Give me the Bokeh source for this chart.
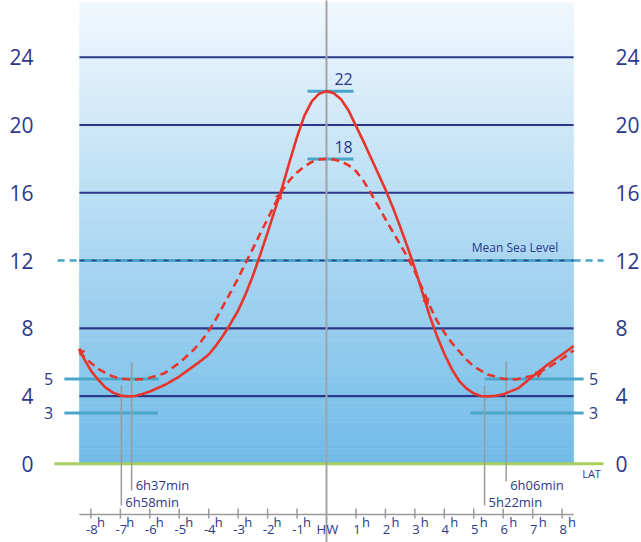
import numpy as np
from bokeh.plotting import figure
from bokeh.models import Range1d
from bokeh.core.properties import value
from bokeh.embed import file_html
from bokeh.resources import INLINE

# ---------------- data ----------------
y_ticks = [0, 4, 8, 12, 16, 20, 24]
y_tick_labels = ["0", "4", "8", "12", "16", "20", "24"]
grid_levels = [4, 8, 16, 20, 24]
mean_sea_level = 12
hw_levels = [22, 18]
hw_labels = ["22", "18"]
lw_levels = [5, 3]
lw_labels = ["5", "3"]
hour_ticks = [-8, -7, -6, -5, -4, -3, -2, -1, 1, 2, 3, 4, 5, 6, 7, 8]
hour_labels = ["-8", "-7", "-6", "-5", "-4", "-3", "-2", "-1",
               "1", "2", "3", "4", "5", "6", "7", "8"]

# solid curve (spring tide), hours relative to HW -> height (m)
spring_t = [-8.39, -8.25, -8.0, -7.75, -7.5, -7.25, -7.0, -6.75, -6.5, -6.25,
            -6.0, -5.5, -5.0, -4.5, -4.25, -4.0, -3.75, -3.5, -3.25, -3.0,
            -2.75, -2.5, -2.25, -2.0, -1.75, -1.5, -1.25, -1.0, -0.75, -0.5,
            -0.25, 0.0, 0.25, 0.5, 0.75, 1.0, 1.25, 1.5, 1.75, 2.0, 2.25, 2.5,
            2.75, 3.0, 3.25, 3.5, 3.75, 4.0, 4.25, 4.5, 4.75, 5.0, 5.25, 5.5,
            5.75, 6.0, 6.5, 7.0, 7.5, 8.0, 8.39]
spring_h = [6.8, 6.25, 5.5, 4.95, 4.5, 4.2, 4.03, 3.98, 4.0, 4.12,
            4.27, 4.65, 5.15, 5.78, 6.1, 6.45, 6.98, 7.6, 8.3, 9.05,
            10.0, 11.1, 12.35, 13.65, 15.0, 16.35, 17.85, 19.3, 20.55, 21.4,
            21.85, 22.0, 21.88, 21.5, 20.85, 19.95, 19.05, 18.1, 17.15, 16.2, 15.15, 14.0,
            12.8, 11.55, 10.15, 8.75, 7.55, 6.5, 5.6, 4.9, 4.45, 4.15, 4.0, 3.98,
            4.02, 4.1, 4.45, 5.15, 5.85, 6.45, 6.95]

# dashed curve (neap tide)
neap_t = [-8.39, -8.25, -8.0, -7.75, -7.5, -7.25, -7.0, -6.6, -6.25, -6.0, -5.5,
          -5.0, -4.5, -4.25, -4.0, -3.75, -3.5, -3.25, -3.0, -2.75, -2.5, -2.25,
          -2.0, -1.75, -1.5, -1.25, -1.0, -0.75, -0.5, -0.25, 0.0, 0.25, 0.5,
          0.75, 1.0, 1.25, 1.5, 1.75, 2.0, 2.25, 2.5, 2.75, 3.0, 3.25, 3.5,
          3.75, 4.0, 4.25, 4.5, 4.75, 5.0, 5.5, 6.0, 6.25, 6.5, 7.0, 7.5,
          8.0, 8.39]
neap_h = [6.65, 6.35, 5.95, 5.6, 5.35, 5.15, 5.03, 4.97, 5.0, 5.08, 5.35,
          5.95, 6.75, 7.25, 7.85, 8.55, 9.35, 10.15, 10.95, 11.85, 12.7, 13.6,
          14.45, 15.35, 16.15, 16.75, 17.2, 17.55, 17.82, 17.96, 18.0, 17.96, 17.85,
          17.62, 17.28, 16.72, 16.0, 15.23, 14.45, 13.7, 12.95, 12.2, 11.35, 10.35, 9.35,
          8.45, 7.75, 7.15, 6.65, 6.15, 5.75, 5.25, 5.02, 4.98, 5.0, 5.2, 5.65,
          6.2, 6.7]

# small direction arrowheads on the curves (hour, height, rotation)
arrow_t = [-8.33, -1.6, 3.4, 7.2]
arrow_h = [6.6, 15.8, 9.6, 5.3]
arrow_rot = [0.75, -0.49, -2.73, -1.1]

marker_times = [-6.967, -6.617, 5.367, 6.1]
marker_labels = ["6h58min", "6h37min", "5h22min", "6h06min"]

# ---------------- style ----------------
NAVY = "#2b388a"
CYAN = "#4aa5c9"
RED = "#e8352b"
GREEN = "#a9cf5b"
GRAY = "#9b9b9b"
FONT = value("Open Sans")

X0, X1 = -8.39, 8.39

p = figure(width=641, height=542,
           x_range=Range1d(-11.07, 10.696), y_range=Range1d(-4.646, 27.35),
           output_backend="svg", toolbar_location=None, min_border=0)
p.axis.visible = False
p.grid.visible = False
p.outline_line_color = None
p.background_fill_color = "white"
p.border_fill_color = "white"

# gradient background
n = 90
edges = np.linspace(0, 27.23, n + 1)
c_bot = np.array([0x70, 0xbb, 0xe8], float)
c_top = np.array([0xf1, 0xf8, 0xfd], float)
cols = []
for i in range(n):
    f = (i + 0.5) / n
    c = c_bot + (c_top - c_bot) * f
    cols.append("#%02x%02x%02x" % tuple(int(round(v)) for v in c))
p.quad(left=X0, right=X1, bottom=edges[:-1], top=edges[1:],
       fill_color=cols, line_color=cols, line_width=0.6)

# navy level lines
p.segment(x0=[X0] * len(grid_levels), x1=[X1] * len(grid_levels),
          y0=grid_levels, y1=grid_levels, line_color=NAVY, line_width=2.2)

# mean sea level
p.segment(x0=[X0], x1=[X1], y0=[mean_sea_level], y1=[mean_sea_level],
          line_color=CYAN, line_width=3)
p.segment(x0=[-9.13, X1], x1=[X0, 9.41], y0=[mean_sea_level] * 2, y1=[mean_sea_level] * 2,
          line_color=CYAN, line_width=2.5, line_dash="7 5")
p.segment(x0=[X0], x1=[X1], y0=[mean_sea_level], y1=[mean_sea_level],
          line_color=NAVY, line_width=1.4, line_dash="5 7")
p.text(x=[7.87], y=[12.25], text=["Mean Sea Level"], text_font=FONT,
       text_font_size="12px", text_color=NAVY, text_align="right",
       text_baseline="bottom")

# LAT line
p.segment(x0=[-9.24], x1=[9.41], y0=[0], y1=[0], line_color=GREEN, line_width=3)
p.text(x=[9.0], y=[-0.57], text=["LAT"], text_font=FONT, text_font_size="11px",
       text_color=NAVY, text_align="center", text_baseline="middle")

# HW / LW reference bars
p.segment(x0=[-0.645] * 2, x1=[0.917] * 2, y0=hw_levels, y1=hw_levels,
          line_color=CYAN, line_width=3)
p.text(x=[0.58] * 2, y=[h + 0.35 for h in hw_levels], text=hw_labels, text_font=FONT,
       text_font_size="16px", text_color=NAVY, text_align="center",
       text_baseline="bottom")
p.segment(x0=[-8.9, -8.9], x1=[-5.7, -5.73], y0=lw_levels, y1=lw_levels,
          line_color=CYAN, line_width=3)
p.segment(x0=[5.37, 4.89], x1=[8.73, 8.73], y0=lw_levels, y1=lw_levels,
          line_color=CYAN, line_width=3)
p.text(x=[-9.44] * 2, y=lw_levels, text=lw_labels, text_font=FONT,
       text_font_size="16px", text_color=NAVY, text_align="center",
       text_baseline="middle")
p.text(x=[9.07] * 2, y=lw_levels, text=lw_labels, text_font=FONT,
       text_font_size="16px", text_color=NAVY, text_align="center",
       text_baseline="middle")

# HW vertical line
p.segment(x0=[0], x1=[0], y0=[-4.7], y1=[27.4], line_color="#a3a3a3", line_width=2)

# time markers
tops = [4.63, 6.0, 4.63, 6.05]
bots = [-2.46, -1.57, -2.46, -1.03]
lab_y = [-2.27, -1.28, -2.27, -1.28]
p.segment(x0=marker_times, x1=marker_times, y0=tops, y1=bots,
          line_color=GRAY, line_width=1.5)
p.text(x=marker_times, y=lab_y, text=marker_labels, text_font=FONT,
       text_font_size="13px", text_color=NAVY, text_align="left",
       text_baseline="middle", x_offset=4)

# tide curves
p.line(neap_t, neap_h, line_color=RED, line_width=2.6, line_dash="8 5")
p.line(spring_t, spring_h, line_color=RED, line_width=2.6)
p.scatter(arrow_t, arrow_h, marker="triangle", angle=arrow_rot, size=7,
          fill_color=RED, line_color=RED, line_width=0.5)

# hour axis
AX_Y = -2.99
p.segment(x0=[X0], x1=[X1], y0=[AX_Y], y1=[AX_Y], line_color=GRAY, line_width=1.5)
p.segment(x0=hour_ticks, x1=hour_ticks, y0=[-2.64] * len(hour_ticks),
          y1=[-3.23] * len(hour_ticks), line_color=GRAY, line_width=1.5)
p.text(x=hour_ticks, y=[-3.85] * len(hour_ticks), text=hour_labels, text_font=FONT,
       text_font_size="13px", text_color=NAVY, text_align="center",
       text_baseline="middle", x_offset=1)
p.text(x=hour_ticks, y=[-3.45] * len(hour_ticks), text=["h"] * len(hour_ticks),
       text_font=FONT, text_font_size="13px", text_color=NAVY, text_align="left",
       text_baseline="middle", x_offset=6)
p.text(x=[0.03], y=[-3.85], text=["HW"], text_font=FONT, text_font_size="13px",
       text_color=NAVY, text_align="center", text_baseline="middle")

# height labels left and right
p.text(x=[-9.95] * len(y_ticks), y=y_ticks, text=y_tick_labels, text_font=FONT,
       text_font_size="21px", text_color=NAVY, text_align="right",
       text_baseline="middle")
p.text(x=[9.81] * len(y_ticks), y=y_ticks, text=y_tick_labels, text_font=FONT,
       text_font_size="21px", text_color=NAVY, text_align="left",
       text_baseline="middle")

open("out.html", "w").write(file_html(p, INLINE))
